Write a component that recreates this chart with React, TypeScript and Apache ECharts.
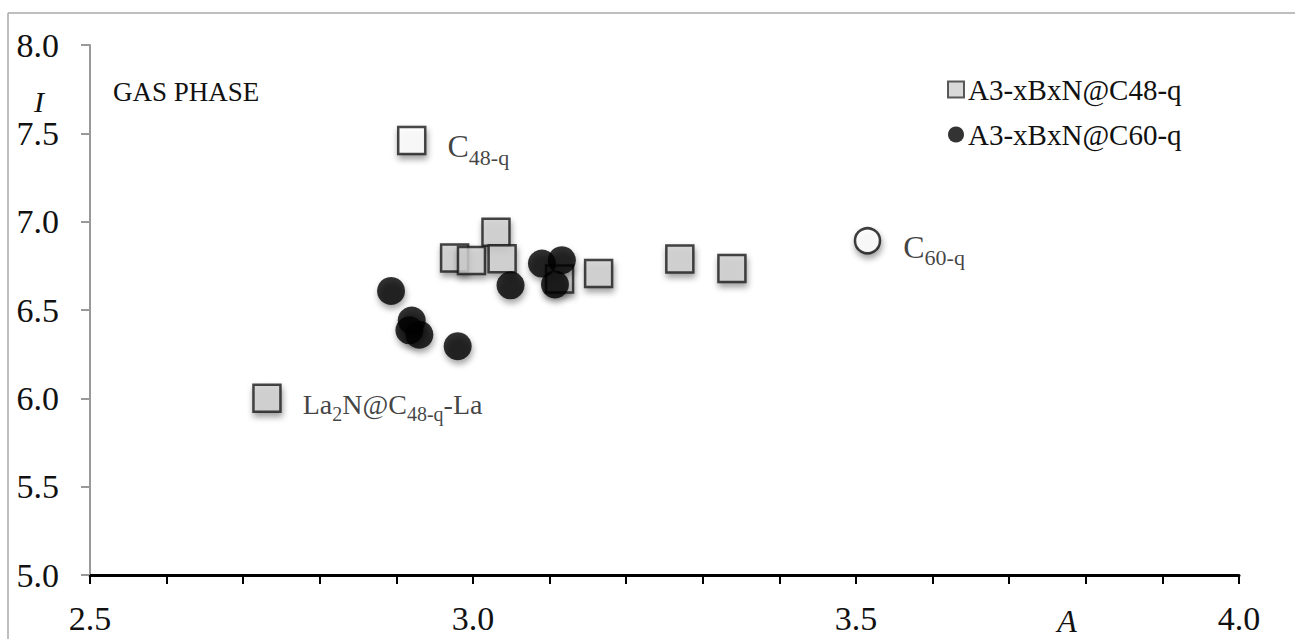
import React, { useEffect, useRef } from "react";
import * as echarts from "echarts";

const FONT = "'Liberation Serif', 'Times New Roman', serif";

// A3-xBxN@C48-q (grey squares): [A, I]
const c48Points: number[][] = [
  [3.03, 6.94],
  [2.976, 6.795],
  [2.998, 6.78],
  [3.038, 6.79],
  [3.113, 6.676],
  [3.164, 6.706],
  [3.27, 6.788],
  [3.338, 6.735],
];
// La2N@C48-q-La (grey square, labelled)
const laPoint: number[][] = [[2.731, 6.0]];
// A3-xBxN@C60-q (black circles)
const c60Points: number[][] = [
  [2.893, 6.608],
  [2.92, 6.44],
  [2.917, 6.385],
  [2.93, 6.36],
  [2.98, 6.295],
  [3.049, 6.64],
  [3.09, 6.763],
  [3.116, 6.782],
  [3.107, 6.645],
];
// Empty cages
const c48Cage: number[][] = [[2.92, 7.46]];
const c60Cage: number[][] = [[3.515, 6.892]];

const xTickLabels = ["2.5", "3.0", "3.5", "4.0"];
const yTickLabels = ["5.0", "5.5", "6.0", "6.5", "7.0", "7.5", "8.0"];

const shadow = {
  shadowBlur: 6,
  shadowColor: "rgba(0,0,0,0.45)",
  shadowOffsetX: 1,
  shadowOffsetY: 4,
};

const richMain = (size: number) => ({
  fontFamily: FONT,
  fontSize: size,
  lineHeight: size,
  color: "#111",
});
const richSub = (size: number, pad: number) => ({
  fontFamily: FONT,
  fontSize: size,
  lineHeight: size,
  color: "#111",
  padding: [pad, 0, 0, 0],
});

export default function App() {
  const ref = useRef<HTMLDivElement>(null);
  useEffect(() => {
    if (!ref.current) return;
    const chart = echarts.init(ref.current, null, { renderer: "svg" });
    const squareStyle = {
      color: "#cfcfcf",
      borderColor: "#1a1a1a",
      borderWidth: 2.5,
      ...shadow,
    };
    const option: any = {
      animation: false,
      backgroundColor: "#ffffff",
      textStyle: { fontFamily: FONT },
      grid: { left: 90, right: 56, top: 45, bottom: 64, containLabel: false },
      xAxis: {
        type: "value",
        min: 2.5,
        max: 4.0,
        interval: 0.5,
        axisLine: { show: true, onZero: false, lineStyle: { color: "#000", width: 3 } },
        axisTick: { show: true, inside: false, length: 9, lineStyle: { color: "#000", width: 2 } },
        minorTick: { show: true, splitNumber: 5, length: 9, lineStyle: { color: "#000", width: 2 } },
        splitLine: { show: false },
        axisLabel: {
          margin: 26,
          fontFamily: FONT,
          fontSize: 34,
          color: "#111",
          formatter: (v: number) => {
            const i = Math.round((v - 2.5) / 0.5);
            return xTickLabels[i] ?? "";
          },
        },
      },
      yAxis: {
        type: "value",
        min: 5.0,
        max: 8.0,
        interval: 0.5,
        axisLine: { show: true, onZero: false, lineStyle: { color: "#999", width: 2 } },
        axisTick: { show: true, inside: false, length: 9, lineStyle: { color: "#999", width: 2 } },
        splitLine: { show: false },
        axisLabel: {
          margin: 31,
          fontFamily: FONT,
          fontSize: 34,
          color: "#111",
          formatter: (v: number) => {
            const i = Math.round((v - 5) / 0.5);
            return yTickLabels[i] ?? "";
          },
        },
      },
      legend: {
        orient: "vertical",
        left: 942,
        top: 70,
        itemWidth: 16,
        itemHeight: 16,
        itemGap: 16,
        textStyle: { fontFamily: FONT, fontSize: 29, color: "#111", padding: [0, 0, 0, -1] },
        data: [
          {
            name: "A3-xBxN@C48-q",
            icon: "rect",
            itemStyle: { color: "#cfcfcf", borderColor: "#333", borderWidth: 2, shadowBlur: 0, shadowOffsetX: 0, shadowOffsetY: 0 },
          },
          {
            name: "A3-xBxN@C60-q",
            icon: "circle",
            itemStyle: { color: "#000", borderWidth: 0, shadowBlur: 0, shadowOffsetX: 0, shadowOffsetY: 0 },
          },
        ],
      },
      graphic: [
        {
          type: "line",
          shape: { x1: 8, y1: 13, x2: 1295, y2: 13 },
          style: { stroke: "#a8a8a8", lineWidth: 1.5 },
          silent: true,
        },
        {
          type: "line",
          shape: { x1: 8, y1: 13, x2: 8, y2: 639 },
          style: { stroke: "#a8a8a8", lineWidth: 1.5 },
          silent: true,
        },
        {
          type: "text",
          left: 113,
          top: 78,
          style: { text: "GAS PHASE", fontFamily: FONT, fontSize: 27, fill: "#111" },
        },
        {
          type: "text",
          x: 39,
          y: 101,
          style: {
            text: "I",
            fontFamily: FONT,
            fontStyle: "italic",
            fontSize: 30,
            fill: "#111",
            align: "center",
            verticalAlign: "middle",
          },
        },
        {
          type: "text",
          x: 1067,
          y: 621,
          style: {
            text: "A",
            fontFamily: FONT,
            fontStyle: "italic",
            fontSize: 32,
            fill: "#111",
            align: "center",
            verticalAlign: "middle",
          },
        },
      ],
      series: [
        {
          name: "A3-xBxN@C48-q",
          type: "scatter",
          symbol: "rect",
          symbolSize: 27,
          data: c48Points,
          itemStyle: squareStyle,
          z: 2,
        },
        {
          name: "La2N@C48-q-La",
          type: "scatter",
          symbol: "rect",
          symbolSize: 27,
          data: laPoint,
          itemStyle: squareStyle,
          z: 2,
          label: {
            show: true,
            position: "right",
            distance: 21,
            offset: [0, 6],
            formatter: "{m|La}{s|2}{m|N@C}{s|48-q}{m|-La}",
            rich: { m: richMain(28), s: richSub(20, 20) },
          },
        },
        {
          name: "C48-q",
          type: "scatter",
          symbol: "rect",
          symbolSize: 27,
          data: c48Cage,
          itemStyle: { color: "#ffffff", borderColor: "#1a1a1a", borderWidth: 2.5, ...shadow },
          z: 2,
          label: {
            show: true,
            position: "right",
            distance: 21,
            offset: [0, 6],
            formatter: "{m|C}{s|48-q}",
            rich: { m: richMain(32), s: richSub(22, 22) },
          },
        },
        {
          name: "A3-xBxN@C60-q",
          type: "scatter",
          symbol: "circle",
          symbolSize: 28,
          data: c60Points,
          itemStyle: { color: "#000000", borderColor: "#000", borderWidth: 0, ...shadow },
          z: 3,
        },
        {
          name: "C60-q",
          type: "scatter",
          symbol: "circle",
          symbolSize: 25,
          data: c60Cage,
          itemStyle: { color: "#ffffff", borderColor: "#111", borderWidth: 2.5, ...shadow },
          z: 3,
          label: {
            show: true,
            position: "right",
            distance: 22,
            offset: [0, 6],
            formatter: "{m|C}{s|60-q}",
            rich: { m: richMain(32), s: richSub(22, 22) },
          },
        },
      ],
    };
    chart.setOption(option);
    return () => chart.dispose();
  }, []);
  return (
    <div
      ref={ref}
      style={{ position: "fixed", left: 0, top: 0, width: 1295, height: 639, background: "#fff" }}
    />
  );
}
